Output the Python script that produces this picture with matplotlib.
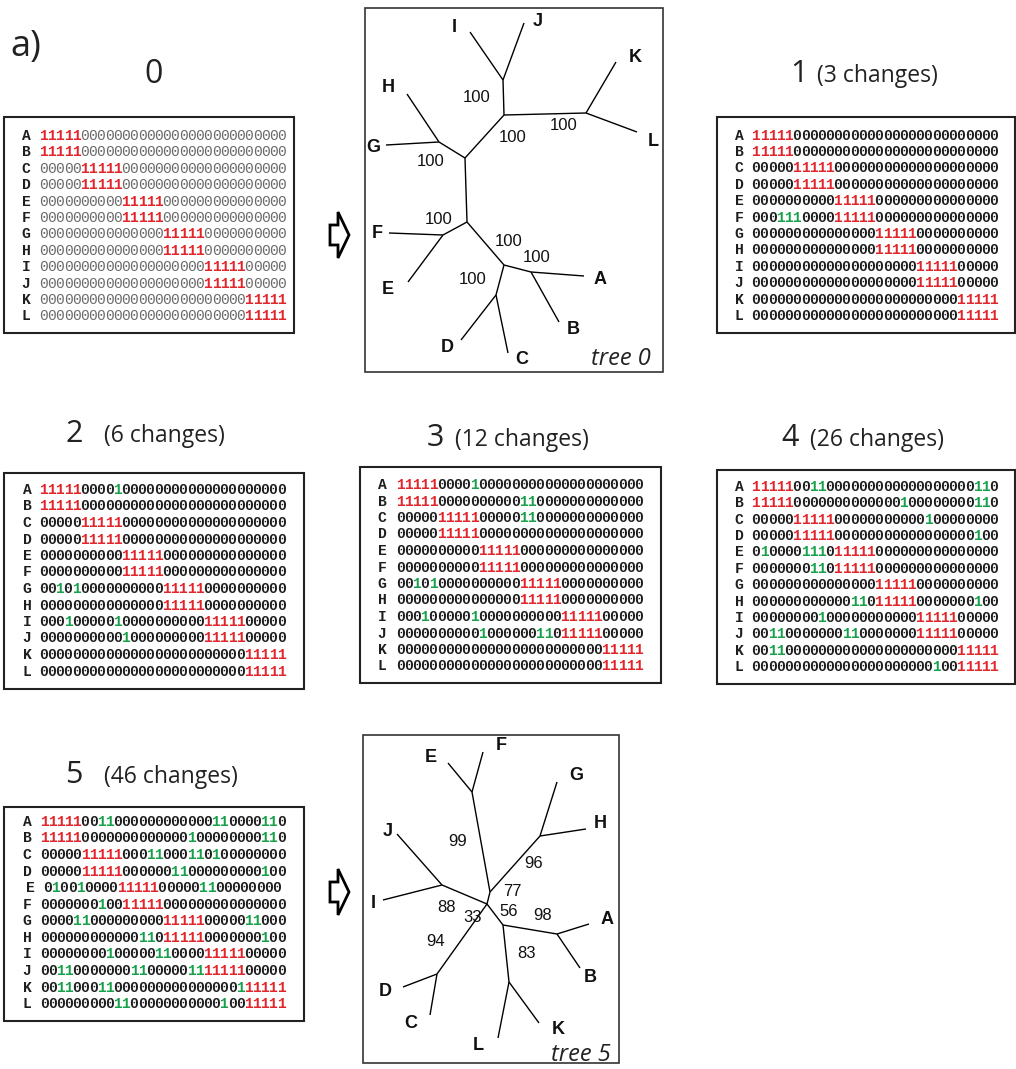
import matplotlib
matplotlib.use("Agg")
import matplotlib.pyplot as plt
from matplotlib.patches import Rectangle, Polygon

# taxa and character matrices ('1' = starting block, '*' = a site changed to 1)
taxa = ["A", "B", "C", "D", "E", "F", "G", "H", "I", "J", "K", "L"]

matrix_0 = [
    "111110000000000000000000000000",
    "111110000000000000000000000000",
    "000001111100000000000000000000",
    "000001111100000000000000000000",
    "000000000011111000000000000000",
    "000000000011111000000000000000",
    "000000000000000111110000000000",
    "000000000000000111110000000000",
    "000000000000000000001111100000",
    "000000000000000000001111100000",
    "000000000000000000000000011111",
    "000000000000000000000000011111",
]

matrix_1 = [
    "111110000000000000000000000000",
    "111110000000000000000000000000",
    "000001111100000000000000000000",
    "000001111100000000000000000000",
    "000000000011111000000000000000",
    "000***000011111000000000000000",
    "000000000000000111110000000000",
    "000000000000000111110000000000",
    "000000000000000000001111100000",
    "000000000000000000001111100000",
    "000000000000000000000000011111",
    "000000000000000000000000011111",
]

matrix_2 = [
    "111110000*00000000000000000000",
    "111110000000000000000000000000",
    "000001111100000000000000000000",
    "000001111100000000000000000000",
    "000000000011111000000000000000",
    "000000000011111000000000000000",
    "00*0*0000000000111110000000000",
    "000000000000000111110000000000",
    "000*00000*00000000001111100000",
    "0000000000*0000000001111100000",
    "000000000000000000000000011111",
    "000000000000000000000000011111",
]

matrix_3 = [
    "111110000*00000000000000000000",
    "111110000000000**0000000000000",
    "000001111100000**0000000000000",
    "000001111100000000000000000000",
    "000000000011111000000000000000",
    "000000000011111000000000000000",
    "00*0*0000000000111110000000000",
    "000000000000000111110000000000",
    "000*00000*00000000001111100000",
    "0000000000*000000**01111100000",
    "000000000000000000000000011111",
    "000000000000000000000000011111",
]

matrix_4 = [
    "1111100**000000000000000000**0",
    "111110000000000000*00000000**0",
    "000001111100000000000*00000000",
    "000001111100000000000000000*00",
    "0*0000***011111000000000000000",
    "0000000**011111000000000000000",
    "000000000000000111110000000000",
    "000000000000**0111110000000*00",
    "00000000*000000000001111100000",
    "00**0000000**00000001111100000",
    "00**00000000000000000000011111",
    "0000000000000000000000*0011111",
]

# row E of set 5 is one site short in the source table
matrix_5 = [
    "1111100**000000000000**0000**0",
    "111110000000000000*00000000**0",
    "0000011111000**000**0*00000000",
    "0000011111000000**000000000*00",
    "0*00*00001111100000**00000000",
    "0000000*0011111000000000000000",
    "0000**0000000001111100000**000",
    "000000000000**0111110000000*00",
    "00000000*00000**00001111100000",
    "00**0000000**00000**1111100000",
    "00**000**000000000000000*11111",
    "000000000**00000000000*0011111",
]

# tree 0: node positions, edges, tip labels, support values
tree0_nodes = {
    "I": (470, 32), "J": (524, 23), "K": (616, 62), "L": (637, 132),
    "H": (407, 94), "G": (386, 145), "F": (389, 233), "E": (408, 282),
    "A": (584, 276), "B": (559, 322), "D": (461, 340), "C": (508, 353),
    "ij": (503, 80), "ijkl": (504, 115), "kl": (586, 113), "top": (465, 158),
    "gh": (439, 142), "bot": (467, 222), "ef": (443, 235), "abcd": (504, 265),
    "ab": (531, 272), "cd": (496, 295),
}
tree0_edges = [
    ("ij", "I"), ("ij", "J"), ("ij", "ijkl"), ("ijkl", "kl"), ("kl", "K"),
    ("kl", "L"), ("ijkl", "top"), ("top", "gh"), ("gh", "G"), ("gh", "H"),
    ("top", "bot"), ("bot", "ef"), ("ef", "E"), ("ef", "F"), ("bot", "abcd"),
    ("abcd", "ab"), ("ab", "A"), ("ab", "B"), ("abcd", "cd"), ("cd", "C"),
    ("cd", "D"),
]
tree0_labels = {
    "I": (454, 28), "J": (538, 21), "K": (635, 57), "L": (653, 142),
    "H": (388, 88), "G": (373, 148), "F": (377, 234), "E": (388, 290),
    "A": (600, 280), "B": (573, 330), "D": (447, 347), "C": (522, 360),
}
tree0_support = [
    ("100", (477, 97)), ("100", (513, 138)), ("100", (564, 126)),
    ("100", (431, 162)), ("100", (439, 219)), ("100", (509, 242)),
    ("100", (537, 258)), ("100", (473, 279)),
]

# tree 5
tree5_nodes = {
    "E": (448, 763), "F": (483, 752), "G": (557, 782), "H": (586, 829),
    "J": (397, 834), "I": (383, 900), "D": (403, 987), "C": (430, 1015),
    "A": (589, 924), "B": (580, 968), "K": (539, 1023), "L": (498, 1038),
    "ef": (472, 792), "gh": (540, 836), "ij": (442, 885), "cd": (437, 974),
    "ab": (557, 934), "kl": (509, 982), "c1": (490, 892), "c2": (487, 904),
    "c3": (503, 925),
}
tree5_edges = [
    ("ef", "E"), ("ef", "F"), ("ef", "c1"), ("gh", "G"), ("gh", "H"),
    ("gh", "c1"), ("c1", "c2"), ("ij", "I"), ("ij", "J"), ("ij", "c2"),
    ("cd", "C"), ("cd", "D"), ("cd", "c2"), ("c2", "c3"), ("c3", "ab"),
    ("ab", "A"), ("ab", "B"), ("c3", "kl"), ("kl", "K"), ("kl", "L"),
]
tree5_labels = {
    "E": (431, 758), "F": (501, 745), "G": (576, 775), "H": (600, 823),
    "J": (388, 832), "I": (373, 903), "D": (385, 992), "C": (411, 1023),
    "A": (607, 919), "B": (590, 978), "K": (558, 1030), "L": (478, 1046),
}
tree5_support = [
    ("99", (458, 842)), ("96", (534, 863)), ("77", (512, 892)),
    ("88", (447, 907)), ("33", (473, 918)), ("56", (509, 912)),
    ("98", (543, 916)), ("94", (436, 942)), ("83", (526, 953)),
]

RED = "#e2252b"
GREEN = "#17a04a"
DARK = "#1e1e1e"
MONO = "Liberation Mono"
SANS = "Open Sans"

fig = plt.figure(figsize=(10.16, 10.69), dpi=100)
ax = fig.add_axes([0, 0, 1, 1])
ax.set_xlim(0, 1016)
ax.set_ylim(1069, 0)
ax.axis("off")


def draw_box(x0, y0, x1, y1, lw=1.5, color="#222222"):
    ax.add_patch(Rectangle((x0, y0), x1 - x0, y1 - y0, fill=False,
                           lw=lw, ec=color))


def draw_matrix(rows, lx, x0, y0, dx, dy, faint=False, shifts=None):
    shifts = shifts or {}
    for r, (name, row) in enumerate(zip(taxa, rows)):
        y = y0 + r * dy
        s = shifts.get(name, 0)
        ax.text(lx + s, y, name, family=MONO, weight="bold", size=10.5,
                color=DARK, ha="center", va="center")
        for i, ch in enumerate(row):
            if ch == "0":
                col = "#6a6a6a" if faint else DARK
                wt = "normal" if faint else "bold"
            elif ch == "1":
                col, wt = RED, "bold"
            else:
                col, wt = GREEN, "bold"
            ax.text(x0 + s + i * dx, y, "0" if ch == "0" else "1",
                    family=MONO, weight=wt, size=10.5, color=col,
                    ha="center", va="center")


def draw_title(num, note, xr, xn, y):
    ax.text(xr, y, num, family=SANS, size=22, color="#222222",
            ha="right", va="baseline")
    if note:
        ax.text(xn, y, note, family=SANS, size=16.5, color="#222222",
                ha="left", va="baseline")


def draw_tree(nodes, edges, labels, support):
    for a, b in edges:
        (xa, ya), (xb, yb) = nodes[a], nodes[b]
        ax.plot([xa, xb], [ya, yb], color="black", lw=1.0,
                solid_capstyle="butt")
    for name, (x, y) in labels.items():
        ax.text(x, y, name, family="Liberation Sans", weight="bold", size=13,
                ha="center", va="center", color="#111111")
    for txt, (x, y) in support:
        ax.text(x, y, txt, family="Liberation Sans", size=12,
                ha="center", va="center", color="#111111")


def draw_arrow(x, y):
    # hollow block arrow, x = left edge of the shaft, y = centre line
    pts = [(x, y - 10), (x + 8, y - 10), (x + 8, y - 23), (x + 19, y),
           (x + 8, y + 23), (x + 8, y + 10), (x, y + 10)]
    ax.add_patch(Polygon(pts, closed=True, fc="white", ec="black", lw=2.0,
                         joinstyle="miter"))


ax.text(10, 56, "a)", family=SANS, size=26, color="#222222",
        ha="left", va="baseline")

# matrices
ax.text(154, 83, "0", family=SANS, size=23, color="#222222",
        ha="center", va="baseline")
draw_box(4, 117, 294, 333)
draw_matrix(matrix_0, 26, 43.4, 136, 8.22, 16.4, faint=True)

draw_title("1", "(3 changes)", 808, 817, 82)
draw_box(717, 117, 1015, 333)
draw_matrix(matrix_1, 739, 755.8, 135.7, 8.2, 16.4)

draw_title("2", "(6 changes)", 83, 104, 442)
draw_box(4, 473, 304, 689)
draw_matrix(matrix_2, 27, 43.4, 490, 8.2, 16.5)

draw_title("3", "(12 changes)", 444, 455, 446)
draw_box(360, 467, 661, 683)
draw_matrix(matrix_3, 382, 400.1, 485, 8.22, 16.5)

draw_title("4", "(26 changes)", 799, 810, 446)
draw_box(717, 470, 1015, 684)
draw_matrix(matrix_4, 739, 755.8, 486.7, 8.2, 16.4)

draw_title("5", "(46 changes)", 83, 104, 783)
draw_box(4, 807, 304, 1021)
draw_matrix(matrix_5, 27, 44.1, 821.7, 8.17, 16.6, shifts={"E": 3.5})

# arrows and trees
draw_arrow(330, 235)
draw_arrow(330, 892)

draw_box(365, 8, 663, 372, lw=1.2, color="#333333")
draw_tree(tree0_nodes, tree0_edges, tree0_labels, tree0_support)
ax.text(651, 365, "tree 0", family=SANS, style="italic", size=17,
        ha="right", va="baseline", color="#222222")

draw_box(363, 735, 619, 1063, lw=1.2, color="#333333")
draw_tree(tree5_nodes, tree5_edges, tree5_labels, tree5_support)
ax.text(611, 1061, "tree 5", family=SANS, style="italic", size=17,
        ha="right", va="baseline", color="#222222")

fig.savefig("out.png", dpi=100)
